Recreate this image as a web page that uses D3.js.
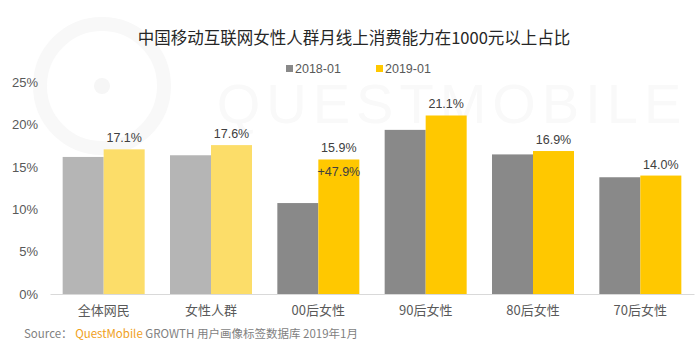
<!DOCTYPE html>
<html><head><meta charset="utf-8">
<script src="https://cdn.jsdelivr.net/npm/d3@7"></script>
<style>body{margin:0;background:#fff}svg{display:block}</style>
</head><body>
<script>
const categories = ["全体网民","女性人群","00后女性","90后女性","80后女性","70后女性"];
const series = ["2018-01","2019-01"];
const values2018 = [16.2, 16.4, 10.75, 19.4, 16.5, 13.8];
const values2019 = [17.1, 17.6, 15.9, 21.1, 16.9, 14.0];
const labels2019 = ["17.1%","17.6%","15.9%","21.1%","16.9%","14.0%"];
const growthIndex = 2, growthLabel = "+47.9%";
const yTicks = [0,5,10,15,20,25];
const title = "中国移动互联网女性人群月线上消费能力在1000元以上占比";

const W=700,H=344;
const svg=d3.select("body").append("svg").attr("width",W).attr("height",H);
const font="'Noto Sans CJK SC','Noto Sans',sans-serif";
const latin="'Liberation Sans',Arial,sans-serif";

// watermark
const wm=svg.append("g");
wm.append("circle").attr("cx",102).attr("cy",86).attr("r",62).attr("fill","none").attr("stroke","#f8f8f8").attr("stroke-width",14);
wm.append("circle").attr("cx",102).attr("cy",86).attr("r",8).attr("fill","#f6f6f6");
wm.append("text").attr("x",452).attr("y",123).attr("text-anchor","middle").attr("font-family",latin)
  .attr("font-size",56).attr("letter-spacing",6).attr("fill","#f9f9f9").text("QUESTMOBILE");

svg.append("text").attr("x",354).attr("y",44).attr("text-anchor","middle").attr("font-family",font)
  .attr("font-size",16.5).attr("fill","#262626").text(title);

const x=d3.scaleBand().domain(categories).range([50,694]).paddingInner(0.236).paddingOuter(0.118);
const xs=d3.scaleBand().domain(series).range([0,x.bandwidth()]);
const y=d3.scaleLinear().domain([0,25]).range([294,82.5]);

// y axis
const ya=svg.append("g").attr("transform","translate(50,0)")
  .call(d3.axisLeft(y).tickValues(yTicks).tickFormat(d=>d+"%").tickSize(0).tickPadding(12));
ya.select(".domain").remove();
ya.selectAll("text").attr("font-family",latin).attr("font-size",13).attr("fill","#595959");

const light=[ "#b5b5b5","#fcdd69"], dark=["#898989","#ffc800"];
const colorFor=(i,s)=> (i<2?light:dark)[s];

const g=svg.append("g");
categories.forEach((c,i)=>{
  [values2018[i],values2019[i]].forEach((v,s)=>{
    g.append("rect").attr("x",x(c)+xs(series[s])).attr("y",y(v)).attr("width",xs.bandwidth()).attr("height",294-y(v))
      .attr("fill",colorFor(i,s));
  });
  g.append("text").attr("x",x(c)+xs(series[1])+xs.bandwidth()/2).attr("y",y(values2019[i])-7)
    .attr("text-anchor","middle").attr("font-family",latin).attr("font-size",12.5).attr("fill","#404040").text(labels2019[i]);
});
g.append("text").attr("x",x(categories[growthIndex])+xs(series[1])+xs.bandwidth()/2).attr("y",y(values2019[growthIndex])+17)
  .attr("text-anchor","middle").attr("font-family",latin).attr("font-size",12.5).attr("fill","#404040").text(growthLabel);

// x axis
const xa=svg.append("g").attr("transform","translate(0,294)").call(d3.axisBottom(x).tickSize(0).tickPadding(12));
xa.select(".domain").attr("stroke","#d9d9d9");
xa.selectAll("text").attr("font-family",font).attr("font-size",13).attr("fill","#595959");

// legend
const lg=[{x:286,s:0},{x:376,s:1}];
lg.forEach(d=>{
  svg.append("rect").attr("x",d.x).attr("y",65).attr("width",7).attr("height",7).attr("fill",dark[d.s]);
  svg.append("text").attr("x",d.x+9).attr("y",73).attr("font-family",latin).attr("font-size",12.5).attr("fill","#595959").text(series[d.s]);
});

// source
const src=svg.append("text").attr("x",24).attr("y",338).attr("font-family",font).attr("font-size",11.5).attr("fill","#7f7f7f");
src.append("tspan").text("Source： ");
src.append("tspan").attr("fill","#f0a020").text("QuestMobile");
src.append("tspan").text(" GROWTH 用户画像标签数据库 2019年1月");
</script>
</body></html>
